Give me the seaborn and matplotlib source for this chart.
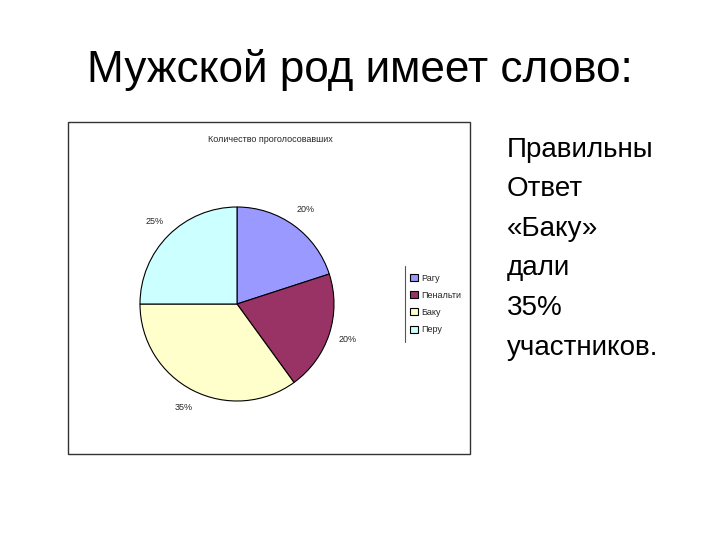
import matplotlib.pyplot as plt
import seaborn as sns
from matplotlib.patches import Rectangle
from matplotlib.lines import Line2D

# Данные опроса
variantes = ['Рагу', 'Пенальти', 'Баку', 'Перу']
porcentajes = [20, 20, 35, 25]
colores = ['#9999FF', '#993366', '#FFFFCC', '#CCFFFF']

titulo = 'Мужской род имеет слово:'
titulo_grafico = 'Количество проголосовавших'
texto_derecha = ['Правильны', 'Ответ', '«Баку»', 'дали', '35%', 'участников.']

sns.set_theme(style="white")
plt.rcParams['font.family'] = ['Liberation Sans', 'DejaVu Sans']

W, H = 720, 540
fig = plt.figure(figsize=(7.2, 5.4), dpi=100)
fig.patch.set_facecolor('white')

# Título principal
fig.text(360 / W, 1 - 70 / H, titulo, ha='center', va='center', fontsize=31.8, color='black')

# Marco del gráfico
fig.patches.append(Rectangle((68 / W, 1 - 454 / H), 402 / W, 332 / H,
                             transform=fig.transFigure, fill=False,
                             edgecolor='#333333', linewidth=1.0))
fig.text(270 / W, 1 - 139 / H, titulo_grafico, ha='center', va='center', fontsize=6.5)

# Pastel
cx, cy, r = 237, 304, 97
ax = fig.add_axes([(cx - r) / W, 1 - (cy + r) / H, 2 * r / W, 2 * r / H])
cuñas, textos, autotextos = ax.pie(
    porcentajes, colors=colores, startangle=90, counterclock=False,
    autopct='%1.0f%%', pctdistance=1.2, radius=1,
    wedgeprops={'edgecolor': 'black', 'linewidth': 0.8},
    textprops={'fontsize': 6.5})
ax.set_xlim(-1, 1)
ax.set_ylim(-1, 1)
ax.set_aspect('equal')
ax.axis('off')

# Leyenda
leg = fig.legend(cuñas, variantes, loc='center left',
                 bbox_to_anchor=(404 / W, 1 - 304 / H),
                 fontsize=6.5, frameon=False, handlelength=0.8, handleheight=0.8,
                 handletextpad=0.4, labelspacing=0.9, borderpad=0.2)
fig.lines.append(Line2D([405 / W, 405 / W], [1 - 266 / H, 1 - 342 / H],
                        transform=fig.transFigure, color='#555555', linewidth=0.8))

# Texto a la derecha
ys = [150, 189, 229, 268, 308, 348]
for linea, y in zip(texto_derecha, ys):
    fig.text(507 / W, 1 - y / H, linea, ha='left', va='center', fontsize=20, color='black')

fig.savefig('out.png', dpi=100)
